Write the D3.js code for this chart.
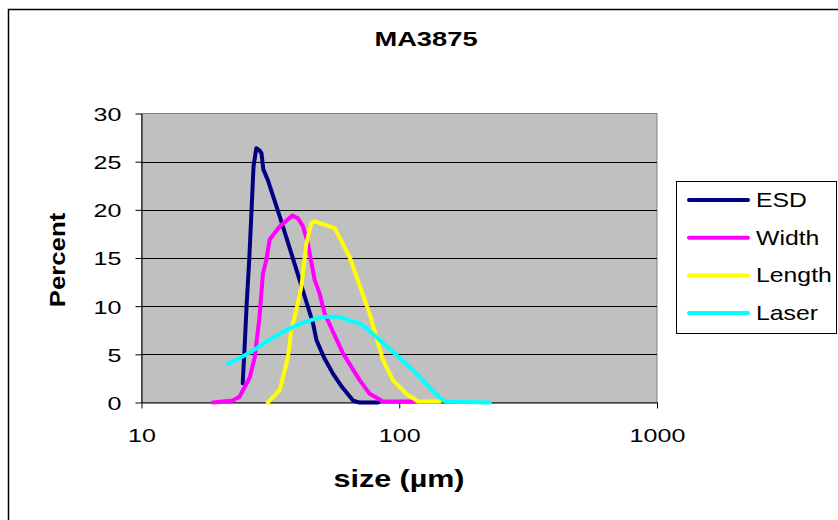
<!DOCTYPE html>
<html>
<head>
<meta charset="utf-8">
<script src="https://cdn.jsdelivr.net/npm/d3@7"></script>
<style>
  body { margin: 0; background: #fff; }
  text { font-family: "Liberation Sans", Arial, sans-serif; fill: #000; }
</style>
</head>
<body>
<svg id="chart"></svg>
<script>
const width = 838;
const height = 520;

// values (size in µm, percent)
const seriesNames = ["ESD", "Width", "Length", "Laser"];
const seriesColors = ["#000080", "#ff00ff", "#ffff00", "#00ffff"];

const esdSize = [24.7, 25.1, 25.6, 26.2, 26.7, 27.2, 27.9, 28.6, 29.2, 29.7, 30.9, 34.4, 39.9, 46.3, 47.7, 51.0, 55.3, 60.0, 66.2, 70.0, 83.0];
const esdPct  = [2.0, 5.5, 10.3, 15.0, 19.7, 24.5, 26.4, 26.2, 25.9, 24.2, 23.1, 19.3, 13.8, 8.2, 6.5, 4.7, 3.0, 1.6, 0.2, 0, 0];

const widthSize = [18.9, 22.6, 24.0, 26.3, 27.5, 28.7, 29.6, 30.5, 31.4, 34.4, 38.5, 40.5, 42.3, 44.2, 47.0, 49.1, 51.4, 60.5, 70.3, 76.8, 86.5, 114.8];
const widthPct  = [0, 0.2, 0.6, 2.6, 4.7, 8.9, 13.4, 14.8, 16.9, 18.3, 19.4, 19.1, 18.3, 16.5, 12.7, 11.3, 9.2, 5.1, 2.3, 0.9, 0.1, 0.1];

const lengthSize = [30.9, 34.4, 37.0, 38.1, 39.9, 41.7, 43.6, 45.6, 47.0, 56.2, 64.2, 76.8, 86.5, 94.6, 106.7, 118.3, 143.6];
const lengthPct  = [0, 1.3, 4.7, 7.5, 9.6, 12.0, 16.5, 18.6, 18.8, 18.1, 15.1, 9.2, 4.4, 2.3, 0.9, 0.1, 0.1];

const laserSize = [21.6, 26.3, 30.5, 37.6, 44.9, 52.2, 57.0, 62.4, 70.3, 81.5, 100.5, 116.7, 135.2, 152.5, 224.6];
const laserPct  = [4.0, 5.2, 6.3, 7.7, 8.5, 8.9, 8.9, 8.6, 8.2, 6.8, 4.6, 3.0, 1.25, 0.1, 0];

const xTicks = [10, 100, 1000];
const yTicks = [0, 5, 10, 15, 20, 25, 30];

const series = [
  { name: seriesNames[0], color: seriesColors[0], x: esdSize, y: esdPct, curve: d3.curveLinear },
  { name: seriesNames[1], color: seriesColors[1], x: widthSize, y: widthPct, curve: d3.curveLinear },
  { name: seriesNames[2], color: seriesColors[2], x: lengthSize, y: lengthPct, curve: d3.curveLinear },
  { name: seriesNames[3], color: seriesColors[3], x: laserSize, y: laserPct, curve: d3.curveMonotoneX }
];

const svg = d3.select("#chart")
  .attr("width", width)
  .attr("height", height);

// outer chart frame
svg.append("rect")
  .attr("x", 8.5).attr("y", 9.5)
  .attr("width", 840).attr("height", 520)
  .style("fill", "#fff")
  .style("stroke", "#000")
  .style("stroke-width", 1.5);

const plot = { left: 141.5, right: 657, top: 113.5, bottom: 402.5 };

const x = d3.scaleLog().domain([10, 1000]).range([plot.left, plot.right]);
const y = d3.scaleLinear().domain([0, 30]).range([plot.bottom, plot.top]);

// plot area
svg.append("rect")
  .attr("x", plot.left).attr("y", plot.top)
  .attr("width", plot.right - plot.left)
  .attr("height", plot.bottom - plot.top)
  .style("fill", "#c0c0c0")
  .style("stroke", "#808080")
  .style("stroke-width", 1);

// gridlines
svg.append("g")
  .selectAll("line")
  .data(yTicks.filter(d => d > 0 && d < 30))
  .enter()
  .append("line")
  .attr("x1", plot.left).attr("x2", plot.right)
  .attr("y1", d => Math.round(y(d)) + 0.5)
  .attr("y2", d => Math.round(y(d)) + 0.5)
  .style("stroke", "#000")
  .style("stroke-width", 1);

// axes
const xAxis = svg.append("g")
  .attr("transform", "translate(0," + plot.bottom + ")")
  .call(d3.axisBottom(x).tickValues(xTicks).tickFormat(d3.format("d")).tickSizeOuter(0).tickSizeInner(6));

xAxis.selectAll(".tick text")
  .attr("y", 0).attr("dy", 0)
  .attr("transform", "translate(0,39.5) scale(1.32,1)")
  .style("font-size", "19px");

const yAxis = svg.append("g")
  .attr("transform", "translate(" + plot.left + ",0)")
  .call(d3.axisLeft(y).tickValues(yTicks).tickSizeOuter(0).tickSizeInner(6));

yAxis.selectAll(".tick text")
  .attr("x", 0).attr("dy", "0.36em")
  .attr("transform", "translate(-20,0) scale(1.32,1)")
  .style("font-size", "19px");

svg.selectAll(".domain").style("stroke", "#000");
svg.selectAll(".tick line").style("stroke", "#000");

// series lines
const line = d3.line();
svg.append("g")
  .selectAll("path")
  .data(series)
  .enter()
  .append("path")
  .attr("d", s => line.curve(s.curve)(s.x.map((v, i) => [x(v), y(s.y[i])])))
  .style("fill", "none")
  .style("stroke", s => s.color)
  .style("stroke-width", 4)
  .style("stroke-linejoin", "round")
  .style("stroke-linecap", "round");

// title
svg.append("text")
  .attr("text-anchor", "middle")
  .attr("transform", "translate(426,46) scale(1.3,1)")
  .style("font-size", "21px")
  .style("font-weight", "bold")
  .text("MA3875");

// axis titles
svg.append("text")
  .attr("text-anchor", "middle")
  .attr("transform", "translate(399,487) scale(1.27,1)")
  .style("font-size", "24px")
  .style("font-weight", "bold")
  .text("size (µm)");

svg.append("text")
  .attr("text-anchor", "middle")
  .attr("transform", "translate(65,260) rotate(-90) scale(1.12,1)")
  .style("font-size", "23px")
  .style("font-weight", "bold")
  .text("Percent");

// legend
const legend = svg.append("g");
legend.append("rect")
  .attr("x", 676.5).attr("y", 181.5)
  .attr("width", 160).attr("height", 152)
  .style("fill", "#fff")
  .style("stroke", "#000")
  .style("stroke-width", 1);

const item = legend.selectAll("g.item")
  .data(series)
  .enter()
  .append("g")
  .attr("class", "item")
  .attr("transform", (d, i) => "translate(0," + (200 + i * 37.7) + ")");

item.append("line")
  .attr("x1", 689).attr("x2", 748)
  .attr("y1", 0).attr("y2", 0)
  .style("stroke", d => d.color)
  .style("stroke-width", 4)
  .style("stroke-linecap", "round");

item.append("text")
  .attr("transform", "translate(756,7) scale(1.24,1)")
  .style("font-size", "20px")
  .text(d => d.name);
</script>
</body>
</html>
